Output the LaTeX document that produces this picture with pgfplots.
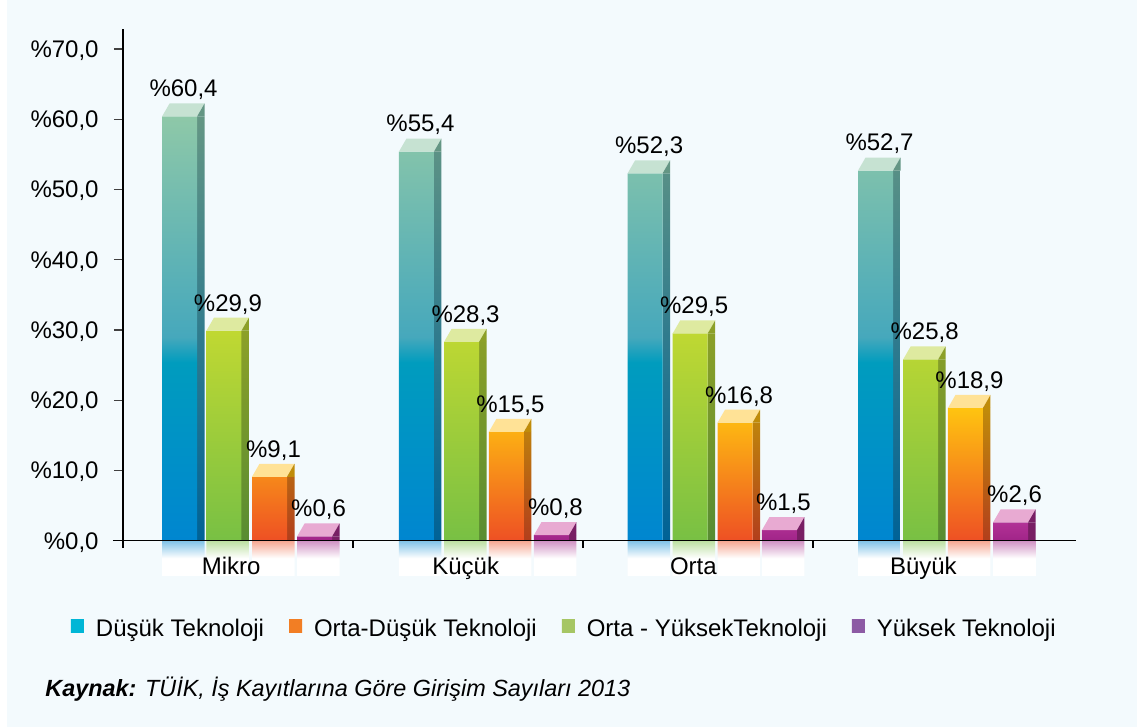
\documentclass[border=0pt]{standalone}
\usepackage{fontspec}
\setmainfont{Liberation Sans}
\usepackage{pgfplots}
\usepackage{pgfplotstable}
\pgfplotsset{compat=1.18}

\definecolor{bgc}{RGB}{243,250,253}
% blue (Dusuk)
\definecolor{bB}{RGB}{0,134,208}
\definecolor{bM}{RGB}{0,156,190}
\definecolor{bU}{RGB}{70,168,188}
\definecolor{bT}{RGB}{142,200,168}
\definecolor{bSideT}{RGB}{100,150,132}
\definecolor{bSideB}{RGB}{0,98,150}
\definecolor{bTop}{RGB}{198,226,210}
% green (Orta-Yuksek)
\definecolor{gT}{RGB}{192,216,50}
\definecolor{gB}{RGB}{120,192,68}
\definecolor{gSideT}{RGB}{140,160,40}
\definecolor{gSideB}{RGB}{88,140,50}
\definecolor{gTop}{RGB}{222,234,160}
% orange (Orta-Dusuk)
\definecolor{oT}{RGB}{255,196,16}
\definecolor{oB}{RGB}{238,80,36}
\definecolor{oSideT}{RGB}{192,140,10}
\definecolor{oSideB}{RGB}{178,62,28}
\definecolor{oTop}{RGB}{255,226,150}
% purple (Yuksek)
\definecolor{pT}{RGB}{178,50,150}
\definecolor{pB}{RGB}{160,36,136}
\definecolor{pSide}{RGB}{120,30,100}
\definecolor{pTop}{RGB}{232,170,210}
% legend colours
\definecolor{lBlue}{RGB}{0,182,214}
\definecolor{lOrange}{RGB}{242,126,36}
\definecolor{lGreen}{RGB}{166,198,100}
\definecolor{lPurple}{RGB}{140,90,164}

\pgfdeclareverticalshading{bluefront}{100bp}{color(0bp)=(bB); color(25bp)=(bB); color(46bp)=(bM); color(49bp)=(bU); color(75bp)=(bT); color(100bp)=(bT)}

\pgfdeclareplotmark{captop}{%
  \pgfpathmoveto{\pgfpoint{-8.75pt}{0pt}}%
  \pgfpathlineto{\pgfpoint{8.75pt}{0pt}}%
  \pgfpathlineto{\pgfpoint{12.5pt}{6.5pt}}%
  \pgfpathlineto{\pgfpoint{-5pt}{6.5pt}}%
  \pgfpathclose\pgfusepathqfill}
\pgfdeclareplotmark{capside}{%
  \pgfpathmoveto{\pgfpoint{8.75pt}{0pt}}%
  \pgfpathlineto{\pgfpoint{12.5pt}{6.5pt}}%
  \pgfpathlineto{\pgfpoint{12.5pt}{0pt}}%
  \pgfpathclose\pgfusepathqfill}

\pgfplotstableread{
x y r
-0.254 60.4 -5
0.776 55.4 -5
1.770 52.3 -5
2.772 52.7 -5
}\dusuk
\pgfplotstableread{
x y r
-0.061 29.9 -5
0.972 28.3 -5
1.966 29.5 -5
2.968 25.8 -5
}\ortayuksek
\pgfplotstableread{
x y r
0.137 9.1 -5
1.167 15.5 -5
2.161 16.8 -5
3.163 18.9 -5
}\ortadusuk
\pgfplotstableread{
x y r
0.333 0.6 -5
1.363 0.8 -5
2.354 1.5 -5
3.359 2.6 -5
}\yuksek

\pgfplotsset{
  front/.style={ybar, bar width=17.5pt, bar shift=0pt, draw=none,
    point meta=y,
    nodes near coords={\%\pgfmathprintnumber[fixed,fixed zerofill,precision=1,use comma,assume math mode=true]{\pgfplotspointmeta}},
    nodes near coords style={anchor=base, inner sep=0pt, yshift=9.8pt, xshift=2pt, text=black}},
  side/.style={ybar, bar width=3.75pt, bar shift=10.625pt, draw=none, forget plot},
  refl/.style={ybar, bar width=21.25pt, bar shift=1.875pt, draw=none, forget plot},
  cap/.style={only marks, forget plot, mark=#1},
}
\newcommand{\legsq}[1]{\fill[top color=#1, bottom color=#1, middle color=#1] (0pt,-1.75pt) rectangle (6.5pt,4.75pt);}

\begin{document}
\fontsize{12pt}{14.4pt}\selectfont
\begin{tikzpicture}
\fill[white] (0,0) rectangle (568.5pt,363.5pt);
\fill[bgc] (3.5pt,0) rectangle (568.5pt,363.5pt);
\begin{axis}[
  at={(61.5pt,93.15pt)}, anchor=south west,
  scale only axis, width=476.5pt, height=255.85pt,
  xmin=-0.5, xmax=3.6435, ymin=0, ymax=72.85,
  clip=false, axis on top,
  axis lines*=left,
  axis line style={black, line width=0.6pt},
  x axis line style={shorten <=-5pt},
  tick align=outside,
  major tick length=4.5pt,
  ytick={0,10,20,30,40,50,60,70},
  yticklabel={\%\pgfmathprintnumber[fixed,fixed zerofill,precision=1,use comma,assume math mode=true]{\tick}},
  yticklabel style={inner sep=0pt, xshift=-7.5pt, yshift=-0.8pt},
  ytick style={black!75, line width=0.6pt},
  xtick={-0.03,0.99,1.98,2.98},
  xticklabels={Mikro,Küçük,Orta,Büyük},
  xtick style={draw=none},
  xticklabel style={anchor=base, inner sep=0pt, yshift=-12.2pt},
  extra x ticks={-0.5,0.5,1.5,2.5},
  extra x tick labels={},
  extra x tick style={xtick style={draw=black, line width=0.6pt}, major tick length=3.5pt},
  legend columns=4,
  legend style={draw=none, fill=none, inner sep=0pt, outer sep=0pt,
    at={(-0.0546,-0.1735)}, anchor=west,
    nodes={inner sep=0pt},
    /tikz/every odd column/.append style={column sep=6pt},
    /tikz/every even column/.append style={column sep=12.5pt}},
]
% reflections
\addplot[refl, top color=bB!50!white, bottom color=white, middle color=white] table[x=x,y=r]{\dusuk};
\addplot[refl, top color=gB!50!white, bottom color=white, middle color=white] table[x=x,y=r]{\ortayuksek};
\addplot[refl, top color=oB!50!white, bottom color=white, middle color=white] table[x=x,y=r]{\ortadusuk};
\addplot[refl, top color=pB!50!white, bottom color=white, middle color=white] table[x=x,y=r]{\yuksek};
% Dusuk Teknoloji
\addplot[side, top color=bSideT, bottom color=bSideB] table[x=x,y=y]{\dusuk};
\addplot[front, shade, shading=bluefront,
  legend image code/.code={\legsq{lBlue}}] table[x=x,y=y]{\dusuk};
\addlegendentry{Düşük Teknoloji}
\addplot[cap=captop, mark options={fill=bTop, draw=none}] table[x=x,y=y]{\dusuk};
\addplot[cap=capside, mark options={fill=bSideT, draw=none}] table[x=x,y=y]{\dusuk};
% Orta-Dusuk Teknoloji
\addplot[side, top color=oSideT, bottom color=oSideB] table[x=x,y=y]{\ortadusuk};
\addplot[front, top color=oT, bottom color=oB,
  legend image code/.code={\legsq{lOrange}}] table[x=x,y=y]{\ortadusuk};
\addlegendentry{Orta-Düşük Teknoloji}
\addplot[cap=captop, mark options={fill=oTop, draw=none}] table[x=x,y=y]{\ortadusuk};
\addplot[cap=capside, mark options={fill=oSideT, draw=none}] table[x=x,y=y]{\ortadusuk};
% Orta-Yuksek Teknoloji
\addplot[side, top color=gSideT, bottom color=gSideB] table[x=x,y=y]{\ortayuksek};
\addplot[front, top color=gT, bottom color=gB,
  legend image code/.code={\legsq{lGreen}}] table[x=x,y=y]{\ortayuksek};
\addlegendentry{Orta - YüksekTeknoloji}
\addplot[cap=captop, mark options={fill=gTop, draw=none}] table[x=x,y=y]{\ortayuksek};
\addplot[cap=capside, mark options={fill=gSideT, draw=none}] table[x=x,y=y]{\ortayuksek};
% Yuksek Teknoloji
\addplot[side, fill=pSide] table[x=x,y=y]{\yuksek};
\addplot[front, top color=pT, bottom color=pB,
  legend image code/.code={\legsq{lPurple}}] table[x=x,y=y]{\yuksek};
\addlegendentry{Yüksek Teknoloji}
\addplot[cap=captop, mark options={fill=pTop, draw=none}] table[x=x,y=y]{\yuksek};
\addplot[cap=capside, mark options={fill=pSide, draw=none}] table[x=x,y=y]{\yuksek};
\end{axis}
\node[anchor=base west, inner sep=0pt] at (22.5pt,15pt) {\fontsize{11.7pt}{14pt}\selectfont\textbf{\textit{Kaynak:}}\textit{ TÜİK, İş Kayıtlarına Göre Girişim Sayıları 2013}};
\pgfresetboundingbox
\path[use as bounding box] (0,0) rectangle (568.5pt,363.5pt);
\end{tikzpicture}
\end{document}
